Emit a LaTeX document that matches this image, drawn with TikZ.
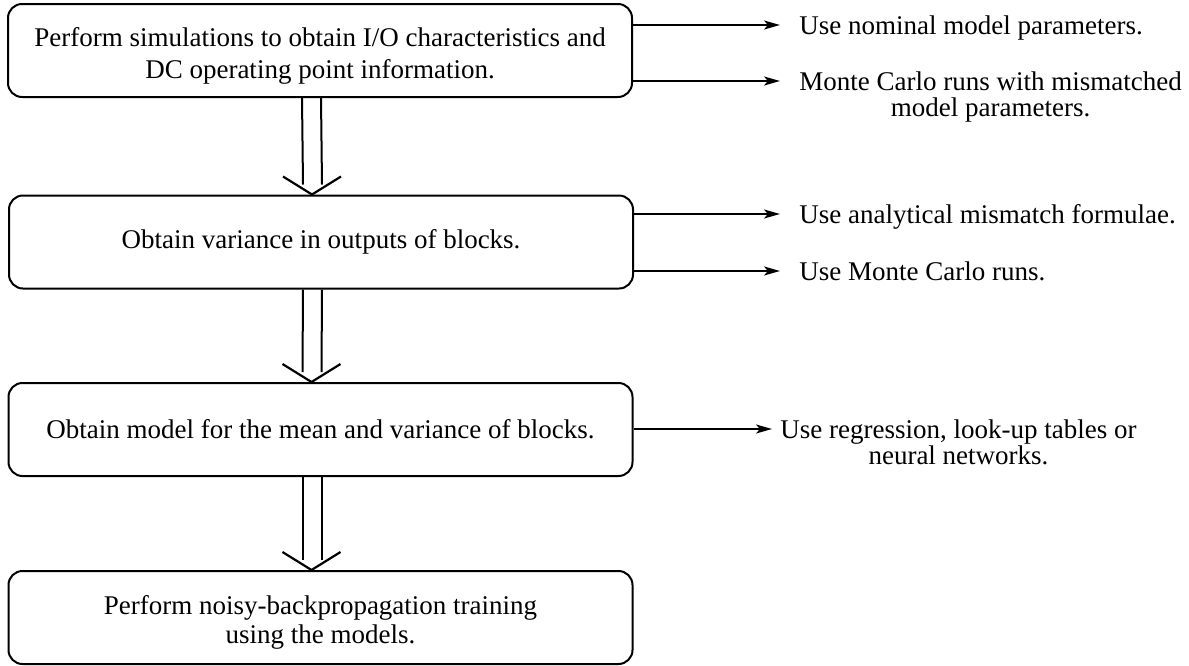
\documentclass[tikz,border=0pt]{standalone}
\usepackage{fontspec}
\setmainfont{Liberation Serif}
\usetikzlibrary{arrows.meta,calc}

% two closely spaced centred lines; the box baseline is that of the first line
\newcommand\toplines[2]{\vtop{\baselineskip=13pt\lineskiplimit=-\maxdimen
  \halign{\hfil##\hfil\cr#1\cr#2\cr}}}

\begin{document}
\begin{tikzpicture}[x=0.5pt,y=-0.5pt,
  every node/.style={font=\fontsize{13.5}{14.5}\selectfont, inner sep=0pt},
  stepbox/.style={draw, line width=1pt, rounded corners=7pt,
    minimum width=312pt, minimum height=46.5pt, align=center},
  note/.style={anchor=base west},
  arr/.style={line width=0.8pt, -{Stealth[length=8pt,width=4.5pt,inset=2pt]}},
  shaft/.style={line width=1pt},
  vhead/.style={line width=1.1pt}
]
\useasboundingbox (0,0) rectangle (1189,665);

% main flow
\node[stepbox] (b1) at (320,50.5) {\rule{0pt}{15pt}Perform simulations to obtain I/O characteristics and\\[1.5pt]DC operating point information.};
\node[stepbox] (b2) at (321,242) {Obtain variance in outputs of blocks.};
\node[stepbox] (b3) at (320.5,429.5) {Obtain model for the mean and variance of blocks.};
\node[stepbox] (b4) at (320.5,617.5) {\rule{0pt}{14pt}Perform noisy-backpropagation training\\using the models.};

% side notes
\node[note] (t1) at (799,34) {Use nominal model parameters.};
\node[note] (t2) at (799,90) {\toplines{Monte Carlo runs with mismatched}{model parameters.}};
\node[note] (t3) at (799,223) {Use analytical mismatch formulae.};
\node[note] (t4) at (799,280) {Use Monte Carlo runs.};
\node[note] (t5) at (780,438) {\toplines{Use regression, look-up tables or}{neural networks.}};

% side arrows
\foreach \b/\t/\g in {b1/t1/19, b1/t2/19, b2/t3/19, b2/t4/19, b3/t5/8}{
  \draw[arr] ($(\b.east |- \t.base west)+(0,-9)$) -- ($(\t.base west)+(-\g,-9)$);
}

% hollow double arrows between steps
\foreach \a/\b in {b1/b2, b2/b3, b3/b4}{
  \draw[shaft] ($(\a.south)+(-18,0)$) -- ($(\b.north)+(-18,-10)$);
  \draw[shaft] ($(\a.south)+(1,0)$) -- ($(\b.north)+(1,-10)$);
  \draw[vhead] ($(\b.north)+(-38,-18)$) -- ($(\b.north)+(-9,0)$) -- ($(\b.north)+(20,-18)$);
}
\end{tikzpicture}
\end{document}
